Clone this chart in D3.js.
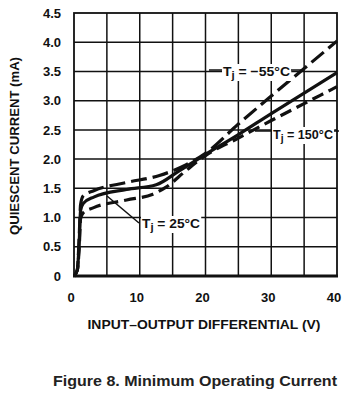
<!DOCTYPE html>
<html>
<head>
<meta charset="utf-8">
<script src="https://cdn.jsdelivr.net/npm/d3@7"></script>
<style>
  body { margin: 0; background: #fff; }
  svg text { font-family: "Liberation Sans", Arial, sans-serif; font-weight: bold; fill: #111; }
</style>
</head>
<body>
<div id="chart"></div>
<script>
// input-output differential (V) vs quiescent current (mA)
var curveMinus55 = [[0, 0], [0.5, 0.1], [0.8, 0.7], [1.0, 1.22], [1.4, 1.37], [3, 1.46], [8, 1.6], [13, 1.72], [17, 1.9], [20, 2.1], [25, 2.6], [30, 3.08], [35, 3.55], [40, 4.02]];
var curve25 = [[0, 0], [0.5, 0.1], [0.8, 0.6], [1.0, 1.12], [1.4, 1.24], [3, 1.35], [8, 1.48], [12.5, 1.56], [16, 1.8], [20, 2.08], [25, 2.42], [30, 2.78], [35, 3.13], [40, 3.48]];
var curve150 = [[0, 0], [0.5, 0.1], [0.8, 0.5], [1.0, 0.98], [1.4, 1.08], [3, 1.17], [8, 1.3], [12, 1.4], [14, 1.52], [17, 1.8], [20, 2.06], [25, 2.36], [30, 2.66], [35, 2.95], [40, 3.24]];

var xTicks = [0, 10, 20, 30, 40];
var yTicks = [0, 0.5, 1.0, 1.5, 2.0, 2.5, 3.0, 3.5, 4.0, 4.5];
var xGridVals = [5, 10, 15, 20, 25, 30, 35];
var yGridVals = [0.5, 1.0, 1.5, 2.0, 2.5, 3.0, 3.5, 4.0];

var width = 364, height = 397;
var plot = { left: 74, right: 337, top: 13, bottom: 276 };

var svg = d3.select("#chart")
  .append("svg")
  .attr("width", width)
  .attr("height", height);

var x = d3.scaleLinear().domain([0, 40]).range([plot.left, plot.right]);
var y = d3.scaleLinear().domain([0, 4.5]).range([plot.bottom, plot.top]);

// grid
svg.append("g")
  .selectAll("line")
  .data(xGridVals)
  .enter()
  .append("line")
  .attr("x1", d => x(d)).attr("x2", d => x(d))
  .attr("y1", plot.top).attr("y2", plot.bottom)
  .attr("stroke", "#111").attr("stroke-width", 1.5);

svg.append("g")
  .selectAll("line")
  .data(yGridVals)
  .enter()
  .append("line")
  .attr("x1", plot.left).attr("x2", plot.right)
  .attr("y1", d => y(d)).attr("y2", d => y(d))
  .attr("stroke", "#111").attr("stroke-width", 1.5);

// frame
svg.append("rect")
  .attr("x", plot.left).attr("y", plot.top)
  .attr("width", plot.right - plot.left)
  .attr("height", plot.bottom - plot.top)
  .attr("fill", "none")
  .attr("stroke", "#111")
  .attr("stroke-width", 1.8);
svg.append("line")
  .attr("x1", plot.left - 1).attr("x2", plot.right + 1)
  .attr("y1", plot.bottom).attr("y2", plot.bottom)
  .attr("stroke", "#111").attr("stroke-width", 3);

// tick labels
svg.append("g")
  .selectAll("text")
  .data(yTicks)
  .enter()
  .append("text")
  .attr("x", 61)
  .attr("y", d => y(d))
  .attr("dy", "0.36em")
  .attr("text-anchor", "end")
  .attr("font-size", 13)
  .text(d => d == 0 ? "0" : d.toFixed(1));

svg.append("g")
  .selectAll("text")
  .data(xTicks)
  .enter()
  .append("text")
  .attr("x", d => x(d) - 3)
  .attr("y", 302)
  .attr("text-anchor", "middle")
  .attr("font-size", 13)
  .text(d => d);

// axis titles
svg.append("text")
  .attr("x", 204).attr("y", 329)
  .attr("text-anchor", "middle")
  .attr("font-size", 13)
  .attr("textLength", 233)
  .attr("lengthAdjust", "spacingAndGlyphs")
  .text("INPUT\u2013OUTPUT DIFFERENTIAL (V)");

svg.append("text")
  .attr("transform", "translate(19,146) rotate(-90)")
  .attr("text-anchor", "middle")
  .attr("font-size", 13)
  .attr("textLength", 178)
  .attr("lengthAdjust", "spacingAndGlyphs")
  .text("QUIESCENT CURRENT (mA)");

// curves
var line = d3.line()
  .x(d => x(d[0]))
  .y(d => y(d[1]))
  .curve(d3.curveMonotoneX);

svg.append("path")
  .attr("d", line(curve150))
  .attr("fill", "none").attr("stroke", "#111")
  .attr("stroke-width", 3.2)
  .attr("stroke-dasharray", "12,6");

svg.append("path")
  .attr("d", line(curveMinus55))
  .attr("fill", "none").attr("stroke", "#111")
  .attr("stroke-width", 3.2)
  .attr("stroke-dasharray", "16,6");

svg.append("path")
  .attr("d", line(curve25))
  .attr("fill", "none").attr("stroke", "#111")
  .attr("stroke-width", 3.2);

// labels with leaders, white box behind the text
function tjLabel(tx, ty, temp, len) {
  var g = svg.append("g");
  var bg = g.append("rect").attr("fill", "#fff");
  var t = g.append("text")
    .attr("x", tx).attr("y", ty)
    .attr("font-size", 13.5)
    .attr("textLength", len)
    .attr("lengthAdjust", "spacingAndGlyphs");
  t.append("tspan").text("T");
  t.append("tspan").attr("font-size", 11).attr("dy", 3).text("j");
  t.append("tspan").attr("dy", -3).text(" = " + temp + "\u00b0C");
  var b = t.node().getBBox();
  bg.attr("x", b.x - 1).attr("y", b.y)
    .attr("width", b.width + 2).attr("height", b.height);
  return g;
}

function leader(x1, y1, x2, y2) {
  svg.append("line")
    .attr("x1", x1).attr("x2", x2).attr("y1", y1).attr("y2", y2)
    .attr("stroke", "#111").attr("stroke-width", 1.5);
}

tjLabel(223, 76, "\u221255", 67);
leader(209, 70, 222, 70);
leader(291, 70, 301, 70);

tjLabel(273, 139, "150", 60);
leader(255, 131, 272, 131);
leader(334, 131, 339, 131);

tjLabel(142, 228, "25", 58);
leader(139, 223, 107, 196);

// caption
svg.append("text")
  .attr("x", 195).attr("y", 386)
  .attr("text-anchor", "middle")
  .attr("font-size", 15)
  .attr("textLength", 284)
  .attr("lengthAdjust", "spacingAndGlyphs")
  .style("fill", "#222")
  .text("Figure 8. Minimum Operating Current");
</script>
</body>
</html>
